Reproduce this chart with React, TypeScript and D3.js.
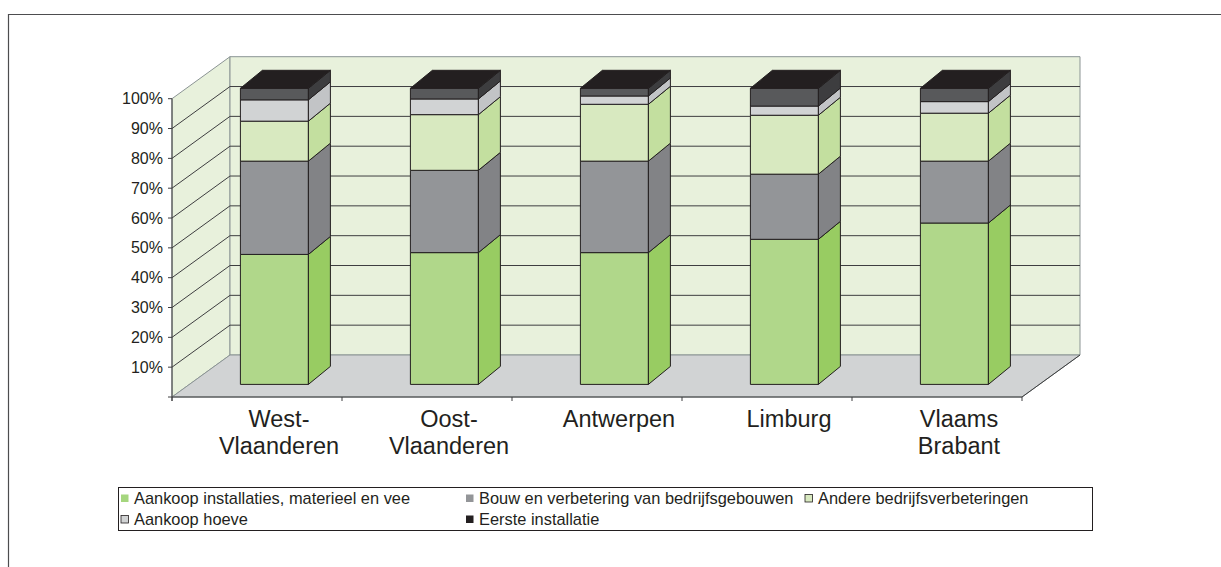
import React from 'react';
import * as d3 from 'd3';

const WIDTH = 1221;
const HEIGHT = 567;
const FONT = 'Liberation Sans, Arial, sans-serif';

// provinces and the two-line labels under the axis
const categories = ['West-Vlaanderen', 'Oost-Vlaanderen', 'Antwerpen', 'Limburg', 'Vlaams Brabant'];
const categoryLines = [['West-', 'Vlaanderen'], ['Oost-', 'Vlaanderen'], ['Antwerpen'], ['Limburg'], ['Vlaams', 'Brabant']];

// share (%) per province, bottom to top of the stack
const aankoopInstallaties = [43.9, 44.5, 44.5, 49.0, 54.5];
const bouwVerbetering = [31.5, 27.8, 30.9, 22.0, 20.9];
const andereVerbeteringen = [13.5, 18.8, 19.2, 19.9, 16.2];
const aankoopHoeve = [7.2, 5.3, 2.8, 3.1, 3.9];
const eersteInstallatie = [3.9, 3.6, 2.6, 6.0, 4.5];

const seriesNames = [
  'Aankoop installaties, materieel en vee',
  'Bouw en verbetering van bedrijfsgebouwen',
  'Andere bedrijfsverbeteringen',
  'Aankoop hoeve',
  'Eerste installatie',
];
const tickValues = [10, 20, 30, 40, 50, 60, 70, 80, 90, 100];

// front / side / top shading per series
const COLORS = [
  { front: '#b0d78a', side: '#98cc62', top: '#a5d67e', legend: '#a5d67e' },
  { front: '#939598', side: '#828386', top: '#8a8c8e', legend: '#939598' },
  { front: '#d8e9c0', side: '#c3df9f', top: '#d0e6b5', legend: '#d8e9c0' },
  { front: '#d1d3d4', side: '#c2c4c6', top: '#c9cbcc', legend: '#d1d3d4' },
  { front: '#58595b', side: '#3d3d3f', top: '#231f20', legend: '#231f20' },
];

// plot frame (oblique 3D)
const X0 = 172;
const X1 = 1022;
const DX = 58;
const DY = -42;
const BAR_DX = 22;
const BAR_DY = -18;
const BAR_DEPTH = 0.3;

export default function App() {
  const x = d3.scaleBand<string>().domain(categories).range([X0, X1]).paddingInner(0.6).paddingOuter(0.3);
  const yFront = d3.scaleLinear().domain([0, 100]).range([397, 98.7]);
  const yBar = d3.scaleLinear().domain([0, 100]).range([397 + DY * BAR_DEPTH, 88.3]);

  const table = categories.map((c, i) => ({
    cat: c,
    s0: aankoopInstallaties[i],
    s1: bouwVerbetering[i],
    s2: andereVerbeteringen[i],
    s3: aankoopHoeve[i],
    s4: eersteInstallatie[i],
  }));
  const stacked = d3.stack<any>().keys(['s0', 's1', 's2', 's3', 's4'])(table);

  const y0 = yFront(0);
  const yTop = yFront(100);
  const pts = (p: number[][]) => p.map((q) => q.join(',')).join(' ');
  const ticksX = d3.range(categories.length + 1).map((i) => X0 + i * x.step());

  const legendCols = [121, 466, 805];
  const legendRows = [498, 519];

  return (
    <svg width={WIDTH} height={HEIGHT} style={{ position: 'absolute', left: 0, top: 0 }} fontFamily={FONT}>
      <rect x={0} y={0} width={WIDTH} height={HEIGHT} fill="#fff" />
      {/* outer frame */}
      <path d={`M8.5,${HEIGHT} V14.5 H${WIDTH}`} fill="none" stroke="#4d4d4f" strokeWidth={1.2} />

      {/* walls and floor */}
      <polygon points={pts([[X0, y0], [X0, yTop], [X0 + DX, yTop + DY], [X0 + DX, y0 + DY]])} fill="#e8f1dc" stroke="#8b9494" />
      <polygon points={pts([[X0 + DX, yTop + DY], [X1 + DX, yTop + DY], [X1 + DX, y0 + DY], [X0 + DX, y0 + DY]])} fill="#e8f1dc" stroke="#8b9494" />
      <polygon points={pts([[X0, y0], [X0 + DX, y0 + DY], [X1 + DX, y0 + DY], [X1, y0]])} fill="#d1d3d4" stroke="#8b9494" />

      {/* gridlines */}
      {tickValues.filter((v) => v < 100).map((v) => (
        <path key={v} d={`M${X0},${yFront(v)} L${X0 + DX},${yFront(v) + DY} H${X1 + DX}`} fill="none" stroke="#3e3e40" strokeWidth={1} />
      ))}
      <line x1={X1} y1={y0} x2={X1 + DX} y2={y0 + DY} stroke="#3e3e40" />

      {/* axes */}
      <line x1={X0} y1={yTop} x2={X0} y2={y0 + 4} stroke="#3e3e40" />
      <line x1={X0 - 4} y1={y0} x2={X1} y2={y0} stroke="#3e3e40" />
      {tickValues.map((v) => (
        <g key={v}>
          <line x1={X0 - 4} x2={X0} y1={yFront(v)} y2={yFront(v)} stroke="#3e3e40" />
          <text x={163} y={yFront(v)} dy="0.35em" textAnchor="end" fontSize={16} fill="#231f20">{v}%</text>
        </g>
      ))}
      {ticksX.map((t) => (
        <line key={t} x1={t} x2={t} y1={y0} y2={y0 + 4} stroke="#3e3e40" />
      ))}
      {categoryLines.map((lines, i) => {
        const cx = (x(categories[i]) as number) + x.bandwidth() / 2 + 22;
        return (
          <text key={i} x={cx} y={426.5} textAnchor="middle" fontSize={23.5} fill="#231f20">
            {lines.map((l, j) => (
              <tspan key={j} x={cx} dy={j === 0 ? 0 : 27}>{l}</tspan>
            ))}
          </text>
        );
      })}

      {/* bars */}
      {categories.map((c, i) => {
        const bx0 = (x(c) as number) + DX * BAR_DEPTH;
        const bx1 = bx0 + x.bandwidth();
        return (
          <g key={c} stroke="#231f20" strokeWidth={1} strokeLinejoin="round">
            {stacked.map((s, k) => {
              const yb = yBar(s[i][0]);
              const yt = yBar(s[i][1]);
              return (
                <g key={k}>
                  <rect x={bx0} y={yt} width={bx1 - bx0} height={yb - yt} fill={COLORS[k].front} />
                  <polygon points={pts([[bx1, yb], [bx1, yt], [bx1 + BAR_DX, yt + BAR_DY], [bx1 + BAR_DX, yb + BAR_DY]])} fill={COLORS[k].side} />
                </g>
              );
            })}
            {(() => {
              const k = stacked.length - 1;
              const yt = yBar(stacked[k][i][1]);
              return <polygon points={pts([[bx0, yt], [bx0 + BAR_DX, yt + BAR_DY], [bx1 + BAR_DX, yt + BAR_DY], [bx1, yt]])} fill={COLORS[k].top} />;
            })()}
          </g>
        );
      })}

      {/* legend */}
      <rect x={118.5} y={487.5} width={974} height={43} fill="#fff" stroke="#231f20" />
      {seriesNames.map((name, k) => {
        const col = k < 3 ? k : k - 3;
        const row = k < 3 ? 0 : 1;
        const lx = legendCols[col];
        const ly = legendRows[row];
        const outlined = k === 2 || k === 3;
        return (
          <g key={name}>
            <rect x={lx} y={ly - 3.5} width={7.5} height={7.5} fill={COLORS[k].legend} stroke={outlined ? '#231f20' : 'none'} strokeWidth={0.8} />
            <text x={lx + 13} y={ly} dy="0.35em" fontSize={16.4} fill="#231f20">{name}</text>
          </g>
        );
      })}
    </svg>
  );
}
